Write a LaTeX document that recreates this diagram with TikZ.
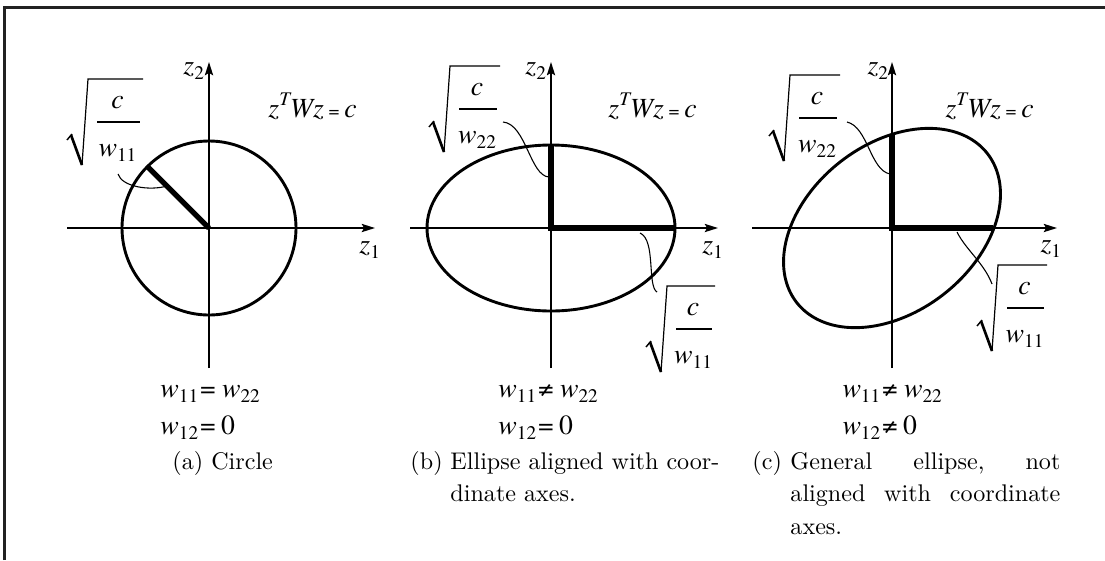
\documentclass[tikz,border=0pt]{standalone}
\usepackage{fontspec}
\newfontfamily\tms{texgyretermes}[Extension=.otf,UprightFont=*-regular,ItalicFont=*-italic,BoldFont=*-bold,BoldItalicFont=*-bolditalic]
\usetikzlibrary{arrows.meta}
\definecolor{framecol}{HTML}{222222}
\newcommand\sbs[1]{\raisebox{-2.2pt}{\fontsize{8}{8}\selectfont\upshape #1}}
\newcommand\sps[1]{\raisebox{4.6pt}{\fontsize{8}{8}\selectfont\itshape #1}}
\newcommand\sqrtfrac[5]{%
  \draw[line width=0.5pt] (#1-6,#2+86) -- (#1,#2) -- (#3,#2);
  \draw[line width=1.1pt] (#1-17,#2+56) -- (#1-6,#2+86);
  \draw[line width=0.6pt] (#1-21,#2+61) -- (#1-16,#2+55);
  \draw[line width=0.5pt] (#1+9,#2+43) -- (#3-3,#2+43);
  \node[lab,anchor=base] (#5c) at ({(#1+#3)/2+2},#2+29) {\textit{c}};
  \node[lab,anchor=base] (#5w) at ({(#1+#3)/2+2},#2+77) {\textit{w}\sbs{#4}};
}
\begin{document}
\begin{tikzpicture}[x=0.415pt,y=-0.415pt,
  axis/.style={line width=0.8pt,-{Stealth[length=5.5pt,width=3.4pt,inset=1pt]}},
  curve/.style={line width=1.2pt},
  semi/.style={line width=2.2pt,line join=miter},
  leader/.style={line width=0.45pt},
  lab/.style={inner sep=0pt,anchor=base west,font=\tms\fontsize{11.5}{13}\selectfont},
  captext/.style={inner sep=0pt,anchor=base west,font=\rmfamily\fontsize{10}{13.6}\selectfont}]
\useasboundingbox (0,0) rectangle (1105,560);
\draw[line width=1.3pt,framecol] (4.5,560) -- (4.5,7.5) -- (1105,7.5);

% ---------- (a) ----------
\coordinate (oa) at (209,228);
\draw[axis] (67,228) -- (375,228);
\draw[axis] (209,368) -- (209,62);
\draw[curve] (oa) circle [radius=87];
\coordinate (ra) at (147.5,166.5);
\draw[semi] (oa) -- (ra);
\node[lab] (z2a) at (183,74) {\textit{z}\sbs{2}};
\node[lab] (z1a) at (359,253) {\textit{z}\sbs{1}};
\node[lab] (eqa) at (268,117) {\textit{z}\sps{T}\textit{Wz}\kern2pt{\fontsize{8}{8}\selectfont =}\kern2pt\textit{c}};
\sqrtfrac{88}{79}{143}{11}{sa}
\draw[leader] (118,174) .. controls (122,187) and (150,191) .. (167,186);
\node[lab] (ma1) at (160,397) {\textit{w}\sbs{11}\kern0.8pt=\kern2.6pt\textit{w}\sbs{22}};
\node[lab] (ma2) at (160,434) {\textit{w}\sbs{12}\kern0.8pt=\kern2.2pt0};
\node[captext] (capa) at (172,469) {(a) Circle};

% ---------- (b) ----------
\coordinate (ob) at (551,228);
\draw[axis] (410,228) -- (718,228);
\draw[axis] (551,368) -- (551,62);
\draw[curve] (ob) ellipse [x radius=124, y radius=83];
\draw[semi] (551,145) -- (ob) -- (675,228);
\node[lab] (z2b) at (525,74) {\textit{z}\sbs{2}};
\node[lab] (z1b) at (702,253) {\textit{z}\sbs{1}};
\node[lab] (eqb) at (608,117) {\textit{z}\sps{T}\textit{Wz}\kern2pt{\fontsize{8}{8}\selectfont =}\kern2pt\textit{c}};
\sqrtfrac{450}{66}{500}{22}{sb}
\sqrtfrac{667}{286}{715}{11}{sbb}
\draw[leader] (503,122) .. controls (526,124) and (530,176) .. (549,177);
\draw[leader] (640,233) .. controls (656,240) and (647,286) .. (657,292);
\node[lab] (mb1) at (498,397) {\textit{w}\sbs{11}\kern0.8pt≠\kern2.6pt\textit{w}\sbs{22}};
\node[lab] (mb2) at (498,434) {\textit{w}\sbs{12}\kern0.8pt=\kern2.2pt0};
\node[captext] (capbl) at (410,469) {(b)};
\node[captext] (capb) at (450,469) {\parbox[t]{112pt}{Ellipse aligned with coor-\\dinate axes.}};

% ---------- (c) ----------
\coordinate (oc) at (892,228);
\draw[axis] (752,228) -- (1057,228);
\draw[axis] (892,368) -- (892,62);
\draw[curve] plot[domain=0:360,samples=181,variable=\t]
  ({892+121*cos(\t)*cos(38)-84*sin(\t)*sin(38)},{228-121*cos(\t)*sin(38)-84*sin(\t)*cos(38)}) -- cycle;
\draw[semi] (892,134) -- (oc) -- (993,228);
\node[lab] (z2c) at (867,74) {\textit{z}\sbs{2}};
\node[lab] (z1c) at (1040,252) {\textit{z}\sbs{1}};
\node[lab] (eqc) at (945,117) {\textit{z}\sps{T}\textit{Wz}\kern2pt{\fontsize{8}{8}\selectfont =}\kern2pt\textit{c}};
\sqrtfrac{790}{75}{840}{22}{sc}
\sqrtfrac{998}{265}{1047}{11}{scc}
\draw[leader] (847,122) .. controls (868,127) and (870,170) .. (890,174);
\draw[leader] (957,232) .. controls (966,250) and (984,263) .. (992,284);
\node[lab] (mc1) at (842,397) {\textit{w}\sbs{11}\kern0.8pt≠\kern2.6pt\textit{w}\sbs{22}};
\node[lab] (mc2) at (842,434) {\textit{w}\sbs{12}\kern0.8pt≠\kern2.2pt0};
\node[captext] (capcl) at (752,469) {(c)};
\node[captext] (capc) at (790,469) {\parbox[t]{112pt}{General\hfill ellipse,\hfill not\\aligned\hfill with\hfill coordinate\\axes.}};
\end{tikzpicture}
\end{document}
